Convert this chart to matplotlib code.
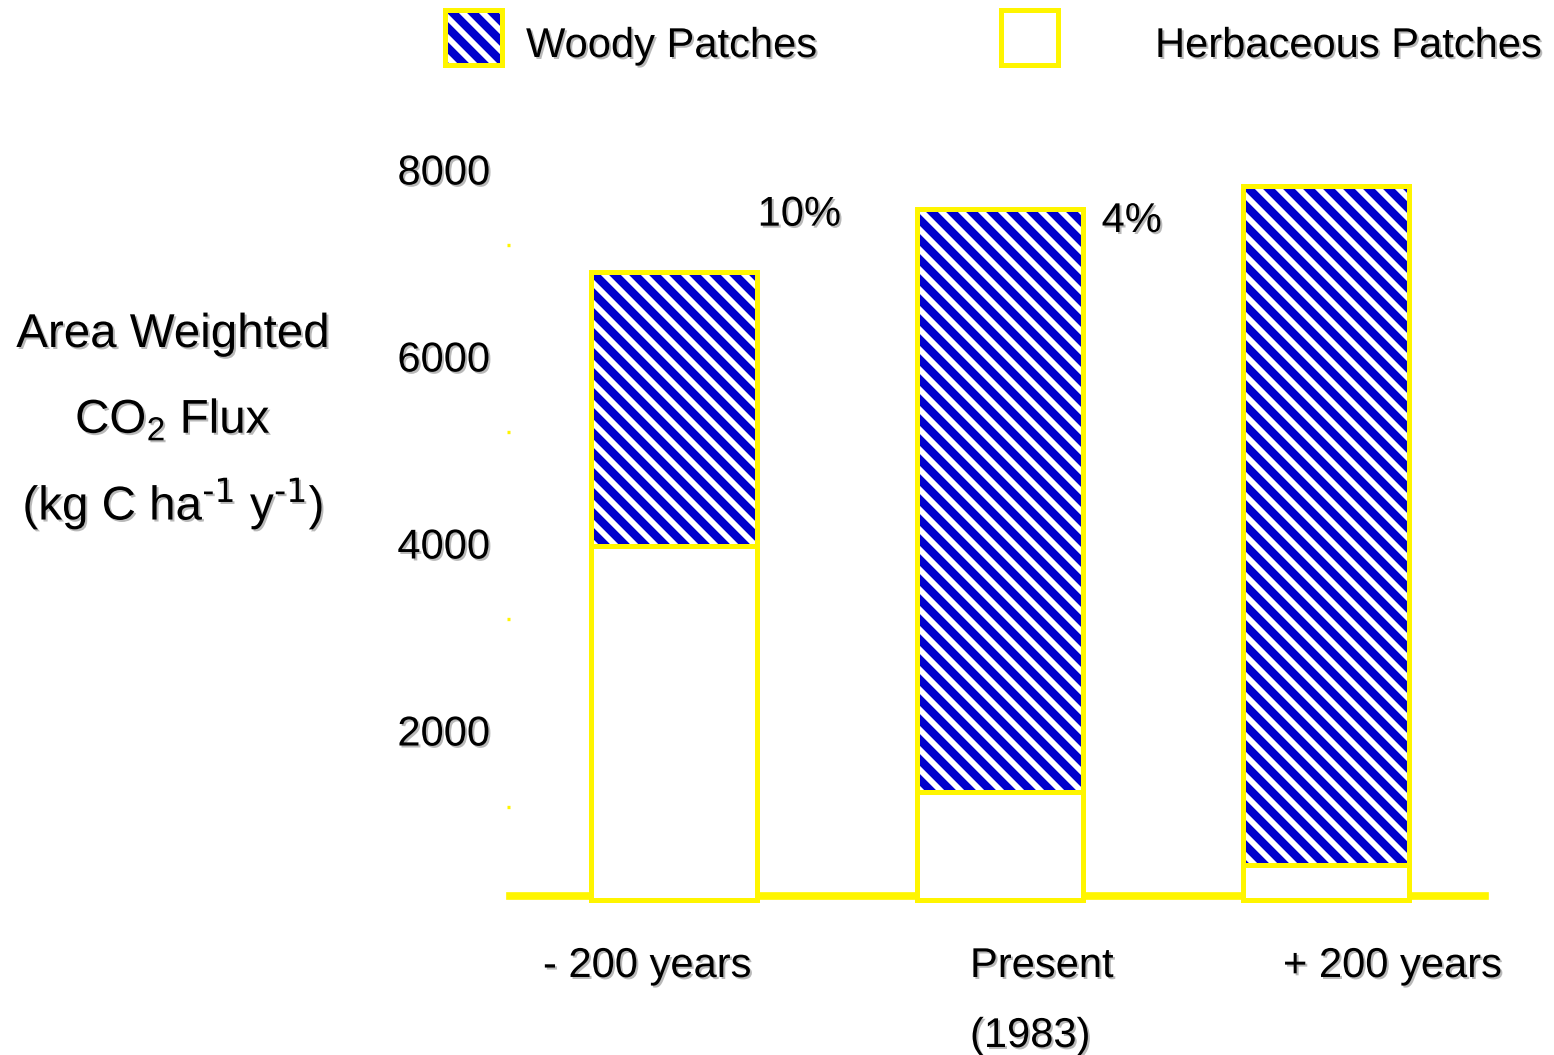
import matplotlib
matplotlib.use('Agg')
import matplotlib.pyplot as plt
import matplotlib.patheffects as pe
from matplotlib.patches import Rectangle
from matplotlib.transforms import ScaledTranslation
import numpy as np

# values (kg C / ha / y)
periods = ['- 200 years', 'Present\n(1983)', '+ 200 years']
herbaceous = [3790, 1150, 375]
woody = [2930, 6240, 7260]
pct_labels = ['10%', '4%', '']
yticks = [2000, 4000, 6000, 8000]
yminor = [1000, 3000, 5000, 7000]

YELLOW = '#FFF500'
BLUE = '#0000CC'
W, H, DPI = 1554, 1055, 120

plt.rcParams['font.family'] = ['Liberation Sans', 'DejaVu Sans']
plt.rcParams['mathtext.default'] = 'regular'
plt.rcParams['hatch.linewidth'] = 5

shadow = [pe.withSimplePatchShadow(offset=(1.2, -1.2), shadow_rgbFace='0.5', alpha=0.55)]


def fx(px):
    return px / W


def fy(py):
    return 1 - py / H


fig = plt.figure(figsize=(W / DPI, H / DPI), dpi=DPI)
ax = fig.add_axes([fx(510), fy(896), 975 / W, 746 / H])

x = np.arange(len(herbaceous))
bw = 0.507
ax.bar(x, herbaceous, bw, color='white', edgecolor=YELLOW, lw=3, zorder=3, clip_on=False)
ax.bar(x, woody, bw, bottom=herbaceous, color='white', edgecolor=BLUE, hatch='\\\\',
       lw=0, zorder=3, clip_on=False)
ax.bar(x, woody, bw, bottom=herbaceous, fill=False, edgecolor=YELLOW, lw=3, zorder=4,
       clip_on=False)

ax.set_xlim(-0.503, 2.488)
ax.set_ylim(43, 8021)
for s in ['left', 'top', 'right']:
    ax.spines[s].set_visible(False)
ax.spines['bottom'].set_color(YELLOW)
ax.spines['bottom'].set_linewidth(4.6)
ax.set_xticks([])

ax.set_yticks(yticks)
ax.set_yticklabels([str(v) for v in yticks])
ax.set_yticks(yminor, minor=True)
ax.tick_params(axis='y', which='major', length=0, pad=12, labelsize=25)
ax.tick_params(axis='y', which='minor', length=2, width=2, color=YELLOW)
for lab in ax.get_yticklabels():
    lab.set_transform(lab.get_transform() + ScaledTranslation(0, -17 / DPI, fig.dpi_scale_trans))
    lab.set_path_effects(shadow)

# percent labels next to the bar tops
pct_offsets = [(1, 46), (19, -23), (0, 0)]
tops = np.array(herbaceous) + np.array(woody)
for i, lab in enumerate(pct_labels):
    if lab:
        ax.annotate(lab, (x[i] + bw / 2, tops[i]), xytext=pct_offsets[i],
                    textcoords='offset pixels', ha='left', va='baseline',
                    fontsize=25, path_effects=shadow, annotation_clip=False)

# category labels under the bars
lab_left = [543, 970, 1283]
for i, lab in enumerate(periods):
    for k, line in enumerate(lab.split('\n')):
        fig.text(fx(lab_left[i]), fy(977 + 70 * k), line, ha='left', va='baseline',
                 fontsize=25, path_effects=shadow)

# y axis title
ylab = ['Area Weighted', r'CO$_2$ Flux', r'(kg C ha$^{\text{-1}}$ y$^{\text{-1}}$)']
ylab_base = [347, 433, 520]
for line, b in zip(ylab, ylab_base):
    fig.text(fx(173), fy(b), line, ha='center', va='baseline', fontsize=28.5,
             path_effects=shadow)

# legend
fig.add_artist(Rectangle((fx(445), fy(64.5)), 57 / W, 55 / H, transform=fig.transFigure,
                         facecolor='white', edgecolor=BLUE, hatch='\\\\', lw=0))
fig.add_artist(Rectangle((fx(445), fy(64.5)), 57 / W, 55 / H, transform=fig.transFigure,
                         fill=False, edgecolor=YELLOW, lw=3))
fig.text(fx(526), fy(57), 'Woody Patches', ha='left', va='baseline', fontsize=25,
         path_effects=shadow)
fig.add_artist(Rectangle((fx(1001), fy(64.5)), 57 / W, 55 / H, transform=fig.transFigure,
                         facecolor='white', edgecolor=YELLOW, lw=3))
fig.text(fx(1155), fy(57), 'Herbaceous Patches', ha='left', va='baseline', fontsize=25,
         path_effects=shadow)

fig.savefig('out.png', dpi=DPI)
